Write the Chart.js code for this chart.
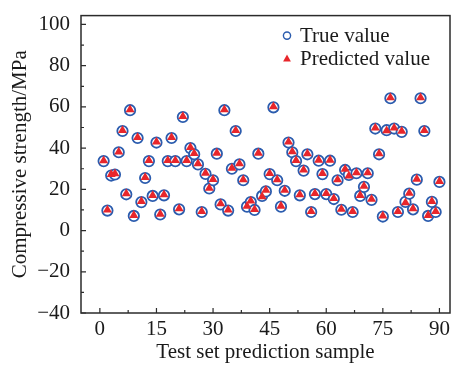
<!DOCTYPE html>
<html>
<head>
<meta charset="utf-8">
<script src="https://cdn.jsdelivr.net/npm/chart.js@4.4.1/dist/chart.umd.min.js"></script>
<style>
  html, body { margin: 0; padding: 0; background: #fff; }
  #wrap { width: 460px; height: 365px; }
</style>
</head>
<body>
<div id="wrap"><canvas id="chart" width="460" height="365"></canvas></div>
<script>
var sampleIds = [1,2,3,4,5,6,7,8,9,10,11,12,13,14,15,16,17,18,19,20,
    21,22,23,24,25,26,27,28,29,30,31,32,33,34,35,36,37,38,39,40,
    41,42,43,44,45,46,47,48,49,50,51,52,53,54,55,56,57,58,59,60,
    61,62,63,64,65,66,67,68,69,70,71,72,73,74,75,76,77,78,79,80,
    81,82,83,84,85,86,87,88,89,90];

var trueValues = [33.7,9.7,26.7,27.2,38.0,48.3,17.6,58.4,7.1,44.9,
    13.8,25.5,33.7,16.8,42.7,7.8,17.1,33.7,44.9,33.7,
    10.3,55.1,33.7,40.0,37.0,32.1,9.0,27.5,20.4,24.4,
    37.3,12.7,58.4,9.7,30.0,48.3,32.1,24.4,11.6,13.8,
    10.0,37.3,16.8,19.0,27.4,59.8,24.4,11.6,19.3,42.7,
    38.0,33.7,17.1,29.1,37.0,9.0,17.7,33.9,27.4,17.7,
    33.9,15.3,24.4,10.1,29.4,27.0,9.0,27.8,16.8,21.2,
    27.8,14.9,49.5,37.0,6.8,48.7,64.2,49.5,9.0,47.9,
    13.9,17.9,10.3,24.7,64.2,48.3,7.1,13.9,9.0,23.6];

var predictedValues = [33.9,10.0,27.3,27.6,38.2,48.6,17.9,58.7,7.4,45.2,
    14.2,25.8,34.0,17.0,43.0,8.0,17.4,34.0,45.2,34.0,
    10.6,55.4,34.0,40.3,37.4,32.5,9.3,27.9,20.6,24.8,
    37.6,13.0,58.7,10.0,30.3,48.6,32.5,24.7,11.8,14.4,
    10.3,37.6,16.4,19.6,27.7,60.1,24.7,11.9,19.6,43.0,
    38.3,34.0,17.4,29.4,37.3,9.3,18.0,34.2,27.7,18.0,
    34.2,15.6,24.7,10.4,29.8,26.5,9.3,28.1,17.1,21.5,
    28.1,15.2,49.8,37.3,7.1,48.5,64.5,49.8,9.3,48.2,
    13.5,18.1,10.6,25.0,64.5,48.6,7.4,14.2,9.3,23.9];

var xTicks = [0, 15, 30, 45, 60, 75, 90];
var yTicks = [-40, -20, 0, 20, 40, 60, 80, 100];

var FONT = "'Liberation Serif', 'Times New Roman', serif";
var AXIS_COLOR = '#2b2b2b';
var BLUE = '#2b5cae';
var RED = '#e8262b';

function toPoints(values) {
    return sampleIds.map(function (id, i) { return { x: id, y: values[i] }; });
}

// frame, inward ticks and legend
var framePlugin = {
    id: 'frame',
    afterDraw: function (chart) {
        var ctx = chart.ctx;
        var area = chart.chartArea;
        var xs = chart.scales.x, ys = chart.scales.y;
        ctx.save();
        ctx.strokeStyle = AXIS_COLOR;
        ctx.lineWidth = 1.5;
        ctx.strokeRect(area.left, area.top, area.right - area.left, area.bottom - area.top);

        ctx.lineWidth = 1.2;
        ctx.beginPath();
        xTicks.forEach(function (t, i) {
            var px = xs.getPixelForValue(t);
            ctx.moveTo(px, area.bottom);
            ctx.lineTo(px, area.bottom - 5);
            if (i < xTicks.length - 1) {
                var mx = xs.getPixelForValue((t + xTicks[i + 1]) / 2);
                ctx.moveTo(mx, area.bottom);
                ctx.lineTo(mx, area.bottom - 3);
            }
        });
        yTicks.forEach(function (t, i) {
            var py = ys.getPixelForValue(t);
            ctx.moveTo(area.left, py);
            ctx.lineTo(area.left + 5, py);
            if (i < yTicks.length - 1) {
                var my = ys.getPixelForValue((t + yTicks[i + 1]) / 2);
                ctx.moveTo(area.left, my);
                ctx.lineTo(area.left + 3, my);
            }
        });
        ctx.stroke();

        // legend
        var lx = area.left + 206, ly1 = area.top + 20, ly2 = area.top + 43;
        ctx.strokeStyle = BLUE;
        ctx.lineWidth = 1.4;
        ctx.beginPath();
        ctx.arc(lx, ly1, 3.6, 0, Math.PI * 2);
        ctx.stroke();
        ctx.fillStyle = RED;
        ctx.beginPath();
        ctx.moveTo(lx, ly2 - 4.2);
        ctx.lineTo(lx + 3.9, ly2 + 2.8);
        ctx.lineTo(lx - 3.9, ly2 + 2.8);
        ctx.closePath();
        ctx.fill();
        ctx.fillStyle = '#1a1a1a';
        ctx.font = '21px ' + FONT;
        ctx.textBaseline = 'middle';
        ctx.fillText('True value', lx + 13, ly1 + 1);
        ctx.fillText('Predicted value', lx + 13, ly2 + 1);
        ctx.restore();
    }
};

var ctx = document.getElementById('chart').getContext('2d');
new Chart(ctx, {
    type: 'scatter',
    data: {
        datasets: [{
            label: 'True value',
            data: toPoints(trueValues),
            pointStyle: 'circle',
            pointRadius: 5.2,
            pointBorderWidth: 1.8,
            pointBorderColor: BLUE,
            pointBackgroundColor: '#ffffff',
            order: 2
        }, {
            label: 'Predicted value',
            data: toPoints(predictedValues),
            pointStyle: 'triangle',
            pointRadius: 5.2,
            pointBorderWidth: 0,
            pointBorderColor: RED,
            pointBackgroundColor: RED,
            order: 1
        }]
    },
    options: {
        responsive: false,
        animation: false,
        layout: { padding: { top: 9, right: 10, left: 0, bottom: 0 } },
        plugins: {
            legend: { display: false },
            tooltip: { enabled: false }
        },
        scales: {
            x: {
                type: 'linear',
                min: -5,
                max: 92.8,
                afterBuildTicks: function (s) { s.ticks = xTicks.map(function (v) { return { value: v }; }); },
                afterFit: function (s) { s.height = 52; },
                grid: { display: false },
                border: { display: false },
                ticks: {
                    color: '#1a1a1a',
                    font: { family: FONT, size: 21 },
                    padding: -4,
                    maxRotation: 0
                },
                title: {
                    display: true,
                    text: 'Test set prediction sample',
                    color: '#1a1a1a',
                    font: { family: FONT, size: 21 },
                    padding: { top: 0, bottom: 0 }
                }
            },
            y: {
                min: -40,
                max: 104.3,
                afterBuildTicks: function (s) { s.ticks = yTicks.map(function (v) { return { value: v }; }); },
                afterFit: function (s) { s.width = 81; },
                grid: { display: false },
                border: { display: false },
                ticks: {
                    color: '#1a1a1a',
                    font: { family: FONT, size: 21 },
                    padding: 3,
                    callback: function (v) { return v < 0 ? '\u2212' + Math.abs(v) : v; }
                },
                title: {
                    display: true,
                    text: 'Compressive strength/MPa',
                    color: '#1a1a1a',
                    font: { family: FONT, size: 21 },
                    padding: { top: 8, bottom: 0 }
                }
            }
        }
    },
    plugins: [framePlugin]
});
</script>
</body>
</html>
